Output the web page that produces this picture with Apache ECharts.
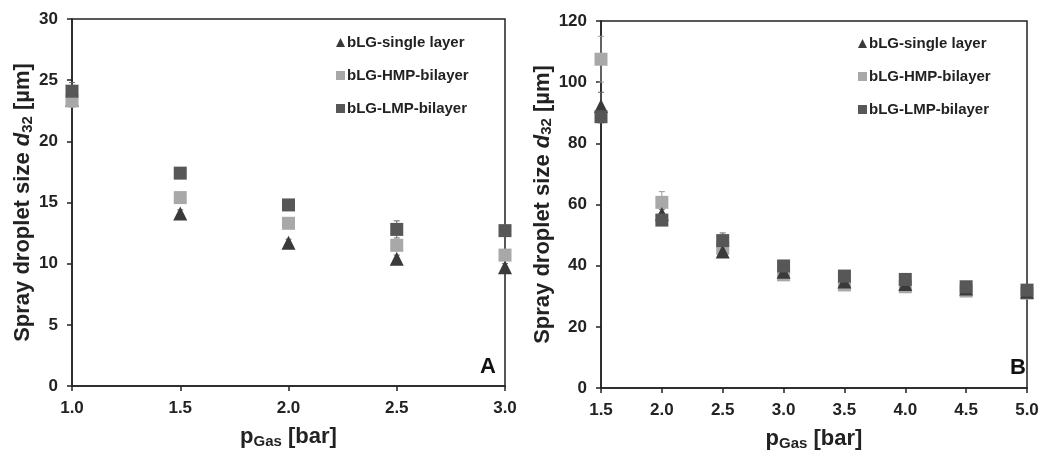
<!DOCTYPE html>
<html>
<head>
<meta charset="utf-8">
<script src="https://cdn.jsdelivr.net/npm/echarts@6/dist/echarts.min.js"></script>
<style>
  html, body { margin: 0; padding: 0; background: #fff; }
  #chart { width: 1050px; height: 453px; }
</style>
</head>
<body>
<div id="chart"></div>
<script>
// panel A
var pGasA = [1.0, 1.5, 2.0, 2.5, 3.0]
var singleA = [23.4, 14.1, 11.7, 10.4, 9.7]
var hmpA = [23.3, 15.4, 13.3, 11.5, 10.7]
var lmpA = [24.1, 17.4, 14.8, 12.8, 12.7]
var singleErrA = [0.4, 0.3, 0.3, 0.3, 0.3]
var hmpErrA = [0.5, 0.3, 0.3, 0.4, 0.3]
var lmpErrA = [0.7, 0.3, 0.3, 0.7, 0.3]
// panel B
var pGasB = [1.5, 2.0, 2.5, 3.0, 3.5, 4.0, 4.5, 5.0]
var singleB = [92.2, 56.9, 44.6, 38.0, 34.8, 34.0, 32.5, 31.5]
var hmpB = [107.5, 60.7, 45.7, 37.0, 33.7, 33.1, 31.7, 31.0]
var lmpB = [88.7, 54.9, 48.2, 39.9, 36.6, 35.5, 33.1, 32.0]
var singleErrB = [4.5, 1.5, 1.5, 1.0, 1.0, 0.8, 0.8, 0.8]
var hmpErrB = [7.5, 3.5, 2.5, 1.0, 0.8, 0.8, 0.8, 0.8]
var lmpErrB = [2.0, 1.5, 2.5, 1.5, 1.5, 1.0, 1.0, 1.0]
var names = ['bLG-single layer', 'bLG-HMP-bilayer', 'bLG-LMP-bilayer']

var cSingle = '#3a3a3a'
var cHmp = '#a8a8a8'
var cLmp = '#575757'
var font = 'Liberation Sans, Arial, sans-serif'

function pts (xs, ys) {
  return xs.map(function (x, i) { return [x, ys[i]] })
}
function errPts (xs, ys, es) {
  return xs.map(function (x, i) { return [x, ys[i] - es[i], ys[i] + es[i]] })
}
function errSeries (idx, xs, ys, es, color) {
  return {
    type: 'custom',
    xAxisIndex: idx,
    yAxisIndex: idx,
    z: 1,
    silent: true,
    data: errPts(xs, ys, es),
    renderItem: function (params, api) {
      var lo = api.coord([api.value(0), api.value(1)])
      var hi = api.coord([api.value(0), api.value(2)])
      var w = 3
      var st = {stroke: color, lineWidth: 1}
      return {
        type: 'group',
        children: [
          {type: 'line', shape: {x1: lo[0], y1: lo[1], x2: hi[0], y2: hi[1]}, style: st},
          {type: 'line', shape: {x1: lo[0] - w, y1: lo[1], x2: lo[0] + w, y2: lo[1]}, style: st},
          {type: 'line', shape: {x1: hi[0] - w, y1: hi[1], x2: hi[0] + w, y2: hi[1]}, style: st}
        ]
      }
    }
  }
}
function scatter (idx, name, xs, ys, symbol, color, size) {
  return {
    name: name,
    type: 'scatter',
    xAxisIndex: idx,
    yAxisIndex: idx,
    symbol: symbol,
    symbolSize: size,
    z: 3,
    itemStyle: {color: color, opacity: 1},
    data: pts(xs, ys)
  }
}
function xAxis (idx, min, max) {
  return {
    type: 'value',
    gridIndex: idx,
    min: min,
    max: max,
    interval: 0.5,
    name: '{p|p}{s|Gas}{p| [bar]}',
    nameLocation: 'middle',
    nameGap: 39,
    nameTextStyle: {
      rich: {
        p: {fontFamily: font, fontWeight: 'bold', fontSize: 22, color: '#222'},
        s: {fontFamily: font, fontWeight: 'bold', fontSize: 15, color: '#222', padding: [9, 0, 0, 0]}
      }
    },
    splitLine: {show: false},
    axisLine: {show: true, onZero: false, lineStyle: {color: '#222', width: 1.5}},
    axisTick: {show: true, inside: false, length: 5, lineStyle: {color: '#222', width: 1.5}},
    axisLabel: {
      color: '#222', fontFamily: font, fontWeight: 'bold', fontSize: 17, margin: 14,
      formatter: function (v) { return v.toFixed(1) }
    }
  }
}
function yAxis (idx, max, interval) {
  return {
    type: 'value',
    gridIndex: idx,
    min: 0,
    max: max,
    interval: interval,
    name: '{a|Spray droplet size }{d|d}{s|32}{a| [µm]}',
    nameLocation: 'middle',
    nameRotate: 90,
    nameGap: idx === 0 ? 36 : 46,
    nameTextStyle: {
      rich: {
        a: {fontFamily: font, fontWeight: 'bold', fontSize: 22, color: '#222'},
        d: {fontFamily: font, fontWeight: 'bold', fontStyle: 'italic', fontSize: 22, color: '#222'},
        s: {fontFamily: font, fontWeight: 'bold', fontSize: 15, color: '#222', padding: [9, 0, 0, 0]}
      }
    },
    splitLine: {show: false},
    axisLine: {show: true, lineStyle: {color: '#222', width: 1.5}},
    axisTick: {show: true, inside: false, length: 5, lineStyle: {color: '#222', width: 1.5}},
    axisLabel: {color: '#222', fontFamily: font, fontWeight: 'bold', fontSize: 17, margin: 14}
  }
}
function legend (left, top) {
  return {
    orient: 'vertical',
    left: left,
    top: top,
    itemGap: 18,
    itemWidth: 9,
    itemHeight: 9,
    selectedMode: false,
    textStyle: {fontFamily: font, fontWeight: 'bold', fontSize: 15, color: '#222', padding: [0, 0, 0, -3]},
    data: [
      {name: names[0], icon: 'triangle'},
      {name: names[1], icon: 'rect'},
      {name: names[2], icon: 'rect'}
    ]
  }
}

var chart = echarts.init(document.getElementById('chart'), null, {renderer: 'canvas'})
chart.setOption({
  animation: false,
  backgroundColor: '#fff',
  grid: [
    {left: 72, right: 545, top: 19, bottom: 67, outerBoundsMode: 'none', containLabel: false, show: true, borderColor: '#222', borderWidth: 1.5, backgroundColor: 'transparent'},
    {left: 601, right: 23, top: 21, bottom: 65, outerBoundsMode: 'none', containLabel: false, show: true, borderColor: '#222', borderWidth: 1.5, backgroundColor: 'transparent'}
  ],
  legend: [legend(331, 30), legend(853, 31)],
  xAxis: [xAxis(0, 1.0, 3.0), xAxis(1, 1.5, 5.0)],
  yAxis: [yAxis(0, 30, 5), yAxis(1, 120, 20)],
  graphic: [
    {type: 'text', left: 480, top: 356, style: {text: 'A', fontFamily: font, fontWeight: 'bold', fontSize: 22, fill: '#111'}},
    {type: 'text', left: 1010, top: 357, style: {text: 'B', fontFamily: font, fontWeight: 'bold', fontSize: 22, fill: '#111'}}
  ],
  series: [
    errSeries(0, pGasA, singleA, singleErrA, '#666'),
    errSeries(0, pGasA, hmpA, hmpErrA, '#999'),
    errSeries(0, pGasA, lmpA, lmpErrA, '#666'),
    scatter(0, names[0], pGasA, singleA, 'triangle', cSingle, 14),
    scatter(0, names[1], pGasA, hmpA, 'rect', cHmp, 13),
    scatter(0, names[2], pGasA, lmpA, 'rect', cLmp, 13),
    errSeries(1, pGasB, singleB, singleErrB, '#666'),
    errSeries(1, pGasB, hmpB, hmpErrB, '#999'),
    errSeries(1, pGasB, lmpB, lmpErrB, '#666'),
    scatter(1, names[1], pGasB, hmpB, 'rect', cHmp, 13),
    scatter(1, names[0], pGasB, singleB, 'triangle', cSingle, 14),
    scatter(1, names[2], pGasB, lmpB, 'rect', cLmp, 13)
  ]
})
</script>
</body>
</html>
